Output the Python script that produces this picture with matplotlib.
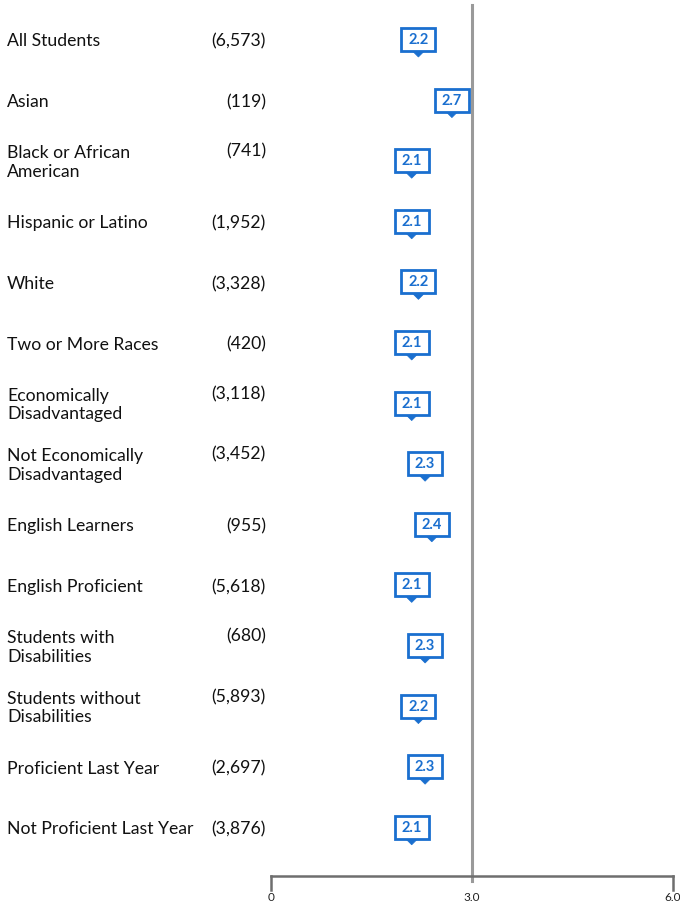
import matplotlib.pyplot as plt
import matplotlib.transforms as mtransforms
from matplotlib.patches import Rectangle, Polygon

plt.rcParams['font.family'] = ['Lato', 'DejaVu Sans']

# data
groups = ['All Students', 'Asian', 'Black or African\nAmerican', 'Hispanic or Latino',
          'White', 'Two or More Races', 'Economically\nDisadvantaged',
          'Not Economically\nDisadvantaged', 'English Learners', 'English Proficient',
          'Students with\nDisabilities', 'Students without\nDisabilities',
          'Proficient Last Year', 'Not Proficient Last Year']
counts = ['6,573', '119', '741', '1,952', '3,328', '420', '3,118', '3,452',
          '955', '5,618', '680', '5,893', '2,697', '3,876']
scores = [2.2, 2.7, 2.1, 2.1, 2.2, 2.1, 2.1, 2.3, 2.4, 2.1, 2.3, 2.2, 2.3, 2.1]
xticks = [0, 3.0, 6.0]
xticklabels = ['0', '3.0', '6.0']

blue = '#1a6fcf'
W, H = 680, 905
fig = plt.figure(figsize=(W / 100, H / 100), dpi=100)
# axes in data x (0..6) and pixel y
ax = fig.add_axes([271 / W, 0, (673 - 271) / W, 1])
ax.set_xlim(0, 6)
ax.set_ylim(H, 0)
ax.axis('off')
pxx = 6 / (673 - 271)  # one pixel in x data units

lab = mtransforms.blended_transform_factory(fig.transFigure, ax.transData)

# reference line at 3.0
ax.plot([3, 3], [5, 881], color='#9a9a9a', lw=2.2, zorder=1)

# bottom axis
ax.plot([0, 6], [876, 876], color='#6e6e6e', lw=1.8, clip_on=False)
for t, tl in zip(xticks, xticklabels):
    if t != 3.0:
        ax.plot([t, t], [876, 890], color='#6e6e6e', lw=1.8, clip_on=False)
    ax.text(t, 897, tl, ha='center', va='center', fontsize=8.5, color='#222222')

for i, (g, c, s) in enumerate(zip(groups, counts, scores)):
    yc = 40 + i * 60.6
    two = '\n' in g
    ax.text(7 / W, yc + 1.5, g, transform=lab, ha='left', va='center',
            fontsize=12.7, color='#111111', linespacing=1.2)
    ax.text(266 / W, (yc - 9.5 if two else yc + 1.5), '(' + c + ')', transform=lab,
            ha='right', va='center', fontsize=12.7, color='#111111')
    # value marker: box + pointer
    bw, bh = 34 * pxx, 23
    top = yc - 12
    ax.add_patch(Rectangle((s - bw / 2, top), bw, bh, fc='white', ec=blue,
                           lw=2, zorder=3))
    ax.add_patch(Polygon([(s - 5 * pxx, top + bh + 1), (s + 5 * pxx, top + bh + 1),
                          (s, top + bh + 6)], closed=True, fc=blue, ec=blue,
                         lw=0.5, zorder=3))
    ax.text(s, top + bh / 2 + 0.5, f'{s:.1f}', ha='center', va='center', fontsize=10.5,
            fontweight='bold', color=blue, zorder=4)

fig.savefig('out.png', dpi=100)
